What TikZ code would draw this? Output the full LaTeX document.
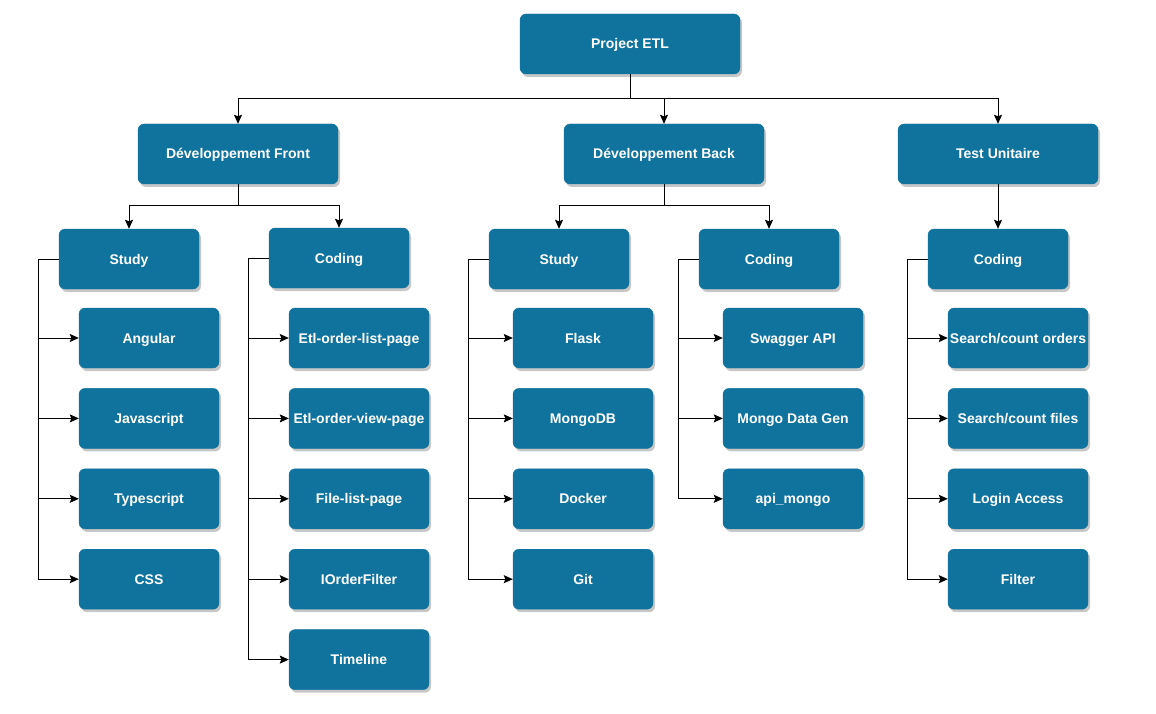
\documentclass[tikz,border=0pt]{standalone}
\usepackage{fontspec}
\setmainfont{Liberation Sans}
\usepackage{tikz}
\usetikzlibrary{positioning,arrows.meta,shadows}
\definecolor{boxblue}{HTML}{10739E}

\tikzset{
  box/.style={draw=boxblue, fill=boxblue, rounded corners=6pt, text=white,
    minimum height=60pt, minimum width=140pt, inner sep=1pt,
    text height=10pt, text depth=0pt,
    font=\fontsize{14}{16}\selectfont\bfseries,
    drop shadow={shadow xshift=2pt, shadow yshift=-3pt, fill=black, opacity=0.22}},
  bigbox/.style={box, minimum width=200pt},
  arr/.style={line width=1pt, -{Stealth[length=9pt, width=8pt, inset=1.5pt]}}
}

\begin{document}
\begin{tikzpicture}[x=1pt, y=-1pt, node distance=20pt]
\useasboundingbox (0,0) rectangle (1156,714);

% Root and main branches
\node[box, minimum width=220pt] (etl) at (630,44) {Project ETL};
\node[bigbox] (front) at (238,154) {Développement Front};
\node[bigbox] (back) at (664,154) {Développement Back};
\node[bigbox] (test) at (998,154) {Test Unitaire};

% Front
\node[box] (fstudy) at (129,259) {Study};
\node[box] (fcoding) at (339,258) {Coding};
\node[box] (angular) at (149,338) {Angular};
\node[box] (js) [below = of angular] {Javascript};
\node[box] (ts) [below = of js] {Typescript};
\node[box] (css) [below = of ts] {CSS};
\node[box] (olist) at (359,338) {Etl-order-list-page};
\node[box] (oview) [below = of olist] {Etl-order-view-page};
\node[box] (flist) [below = of oview] {File-list-page};
\node[box] (ofilter) [below = of flist] {IOrderFilter};
\node[box] (timeline) [below = of ofilter] {Timeline};

% Back
\node[box] (bstudy) at (559,259) {Study};
\node[box] (bcoding) at (769,259) {Coding};
\node[box] (flask) at (583,338) {Flask};
\node[box] (mongo) [below = of flask] {MongoDB};
\node[box] (docker) [below = of mongo] {Docker};
\node[box] (git) [below = of docker] {Git};
\node[box] (swagger) at (793,338) {Swagger API};
\node[box] (datagen) [below = of swagger] {Mongo Data Gen};
\node[box] (apimongo) [below = of datagen] {api\_mongo};

% Test
\node[box] (tcoding) at (998,259) {Coding};
\node[box] (sorders) at (1018,338) {Search/count orders};
\node[box] (sfiles) [below = of sorders] {Search/count files};
\node[box] (login) [below = of sfiles] {Login Access};
\node[box] (filter) [below = of login] {Filter};

% Arrows
\foreach \t in {front, back, test}
  \draw[arr] (etl.south) -- ++(0,24) -| (\t.north);
\foreach \t in {fstudy, fcoding}
  \draw[arr] (front.south) -- ++(0,21) -| (\t.north);
\foreach \t in {bstudy, bcoding}
  \draw[arr] (back.south) -- ++(0,21) -| (\t.north);
\draw[arr] (test.south) -- (tcoding.north);

\foreach \t in {angular, js, ts, css}
  \draw[arr] (fstudy.west) -- ++(-20,0) |- (\t.west);
\foreach \t in {olist, oview, flist, ofilter, timeline}
  \draw[arr] (fcoding.west) -- ++(-20,0) |- (\t.west);
\foreach \t in {flask, mongo, docker, git}
  \draw[arr] (bstudy.west) -- ++(-20,0) |- (\t.west);
\foreach \t in {swagger, datagen, apimongo}
  \draw[arr] (bcoding.west) -- ++(-20,0) |- (\t.west);
\foreach \t in {sorders, sfiles, login, filter}
  \draw[arr] (tcoding.west) -- ++(-20,0) |- (\t.west);

\end{tikzpicture}
\end{document}
